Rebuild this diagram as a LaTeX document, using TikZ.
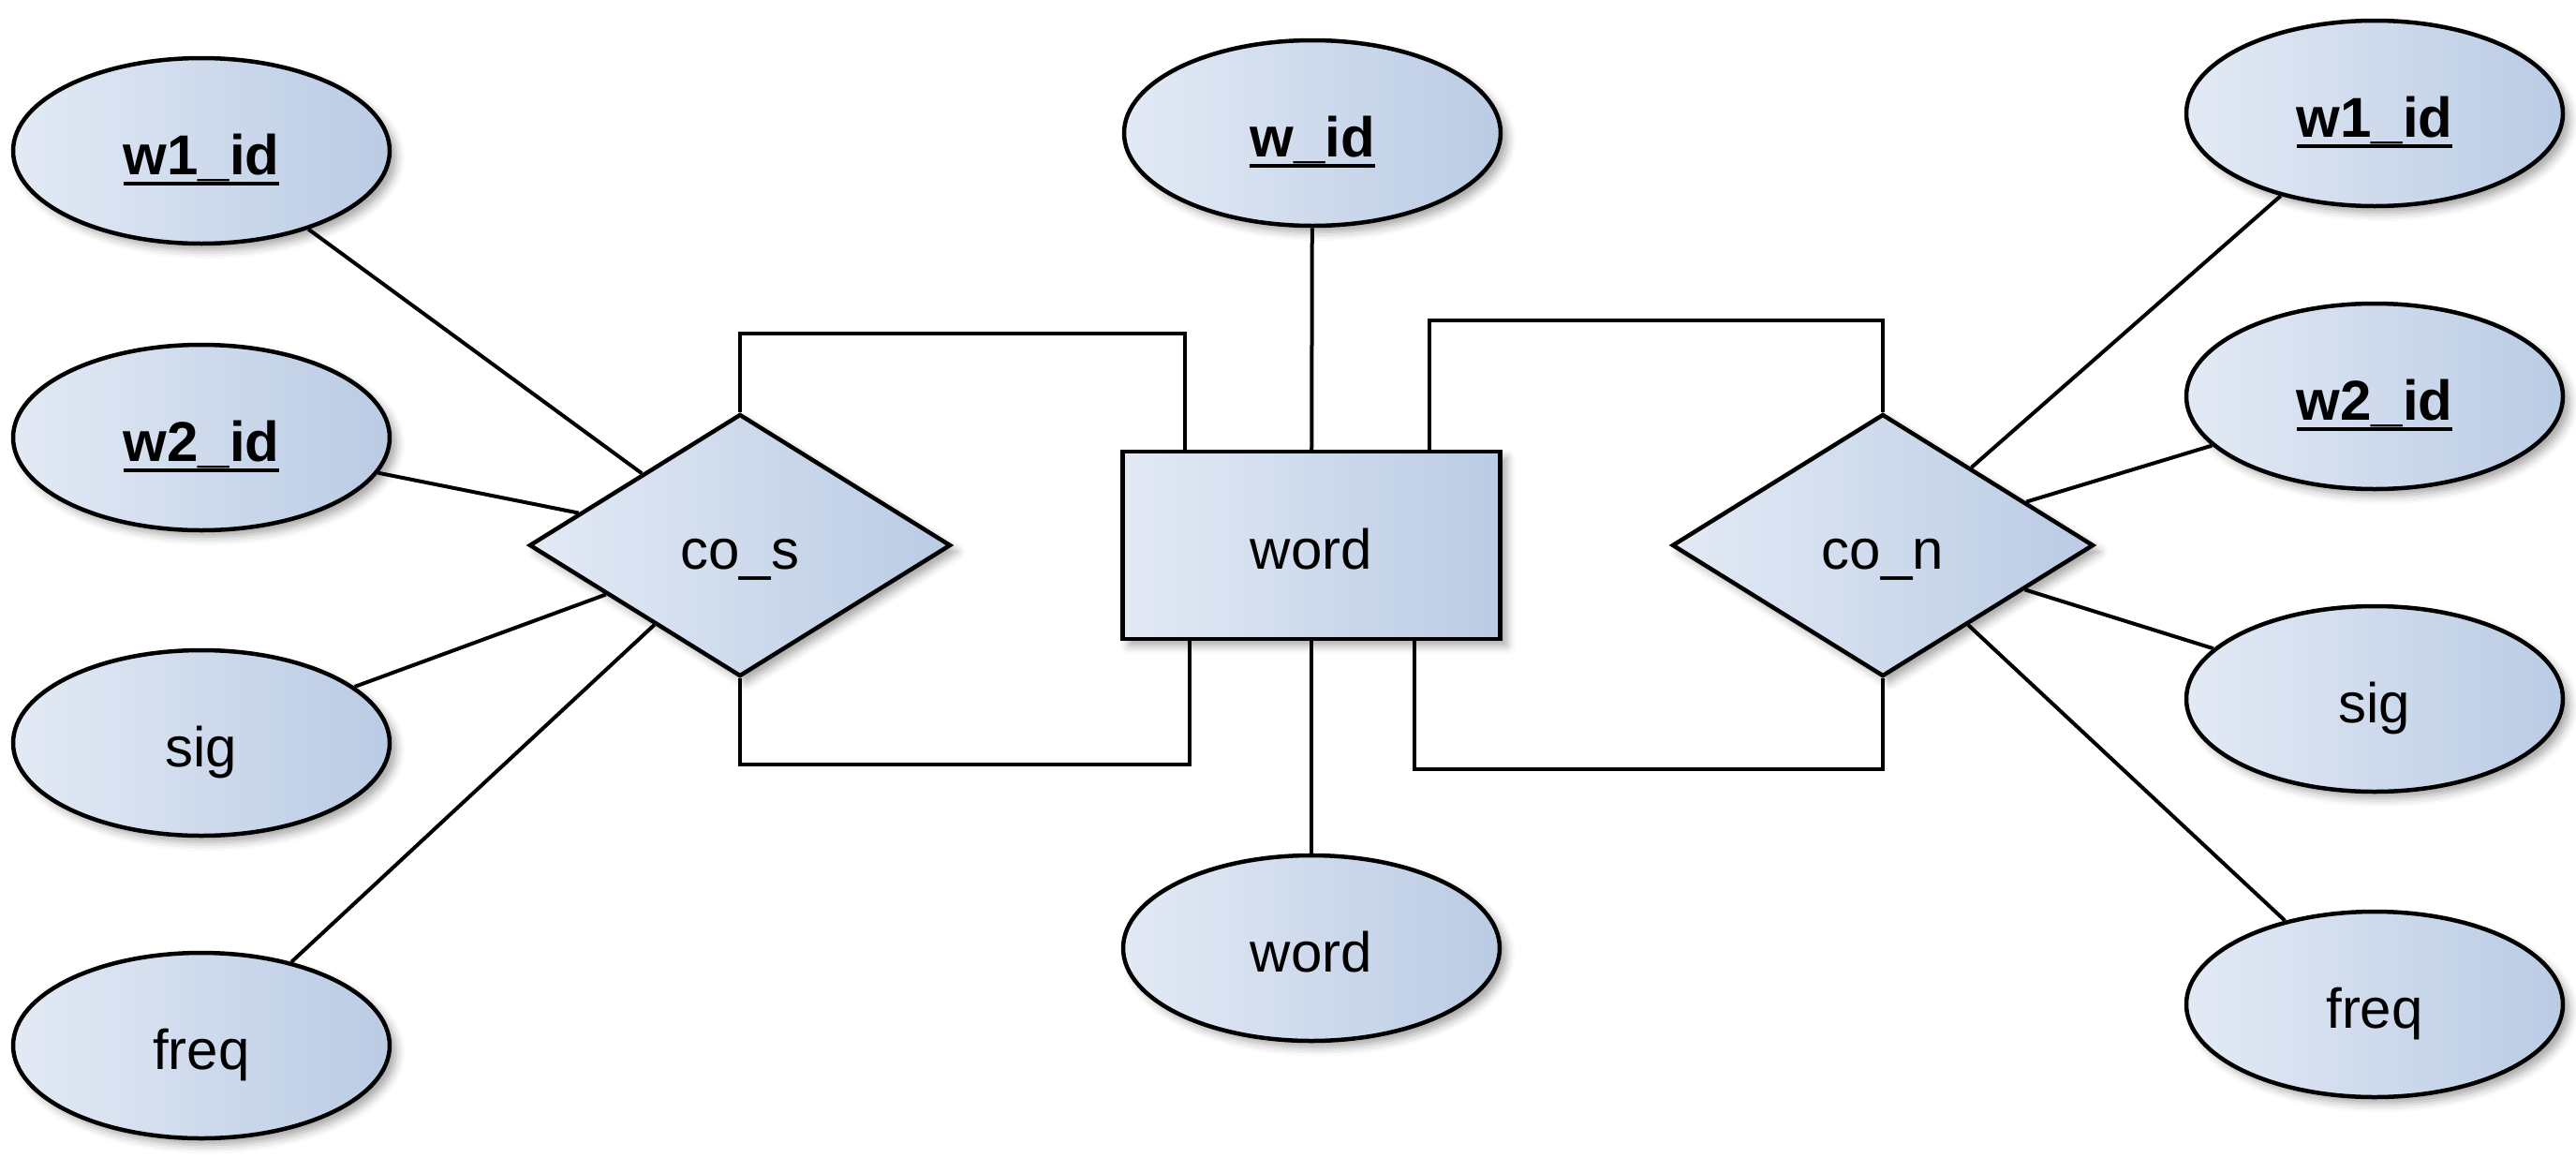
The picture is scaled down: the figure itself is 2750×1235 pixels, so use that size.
\documentclass[tikz,border=0pt]{standalone}
\usepackage{fontspec}
\setmainfont{Liberation Sans}
\usetikzlibrary{shapes.geometric,shadows.blur}
% key attribute: bold text with a heavy underline
\newcommand{\keyattr}[1]{\sbox0{\bfseries #1}\rlap{\rule[-12pt]{\wd0}{4pt}}\usebox0}
\tikzset{
  erfill/.style={left color=erlight, right color=erdark, draw=black, line width=4.5pt,
    blur shadow={shadow xshift=7pt, shadow yshift=-7pt, shadow blur radius=9pt, shadow opacity=35},
    font=\fontsize{60}{70}\selectfont, inner sep=0pt, text height=50pt, text depth=0pt},
  attr/.style={erfill, ellipse, minimum width=402pt, minimum height=198pt},
  entity/.style={erfill, rectangle, minimum width=403pt, minimum height=200pt},
  relation/.style={erfill, diamond, aspect=1.607, minimum width=450pt, minimum height=280pt},
  link/.style={line width=4pt, line join=miter}
}
\definecolor{erlight}{HTML}{E3EAF5}
\definecolor{erdark}{HTML}{BACBE4}
\begin{document}
\begin{tikzpicture}[x=1pt,y=-1pt]
\useasboundingbox (0,0) rectangle (2750,1235);
% entity and relationships
\node[entity] (word) at (1400,582) {word};
\node[relation] (cos) at (790,582) {co\_s};
\node[relation] (con) at (2010,582) {co\_n};
% attributes
\node[attr] (wid) at (1401,142) {\keyattr{w\_id}};
\node[attr] (wword) at (1400,1012) {word};
\node[attr] (lw1) at (215,161) {\keyattr{w1\_id}};
\node[attr] (lw2) at (215,467) {\keyattr{w2\_id}};
\node[attr] (lsig) at (215,793) {sig};
\node[attr] (lfreq) at (215,1116) {freq};
\node[attr] (rw1) at (2535,121) {\keyattr{w1\_id}};
\node[attr] (rw2) at (2535,423) {\keyattr{w2\_id}};
\node[attr] (rsig) at (2535,746) {sig};
\node[attr] (rfreq) at (2535,1072) {freq};
% attribute links
\draw[link] (wid) -- (word);
\draw[link] (word) -- (wword);
\foreach \a in {lw1,lw2,lsig,lfreq} \draw[link] (\a) -- (cos);
\foreach \a in {rw1,rw2,rsig,rfreq} \draw[link] (\a) -- (con);
% relationship links
\coordinate (cstop) at (1265,356);
\coordinate (csbot) at (1270,816);
\coordinate (cntop) at (1526,342);
\coordinate (cnbot) at (1510,821);
\draw[link] (cos.north) |- (cstop) -- (cstop |- word.north);
\draw[link] (cos.south) |- (csbot) -- (csbot |- word.south);
\draw[link] (con.north) |- (cntop) -- (cntop |- word.north);
\draw[link] (con.south) |- (cnbot) -- (cnbot |- word.south);
\end{tikzpicture}
\end{document}
